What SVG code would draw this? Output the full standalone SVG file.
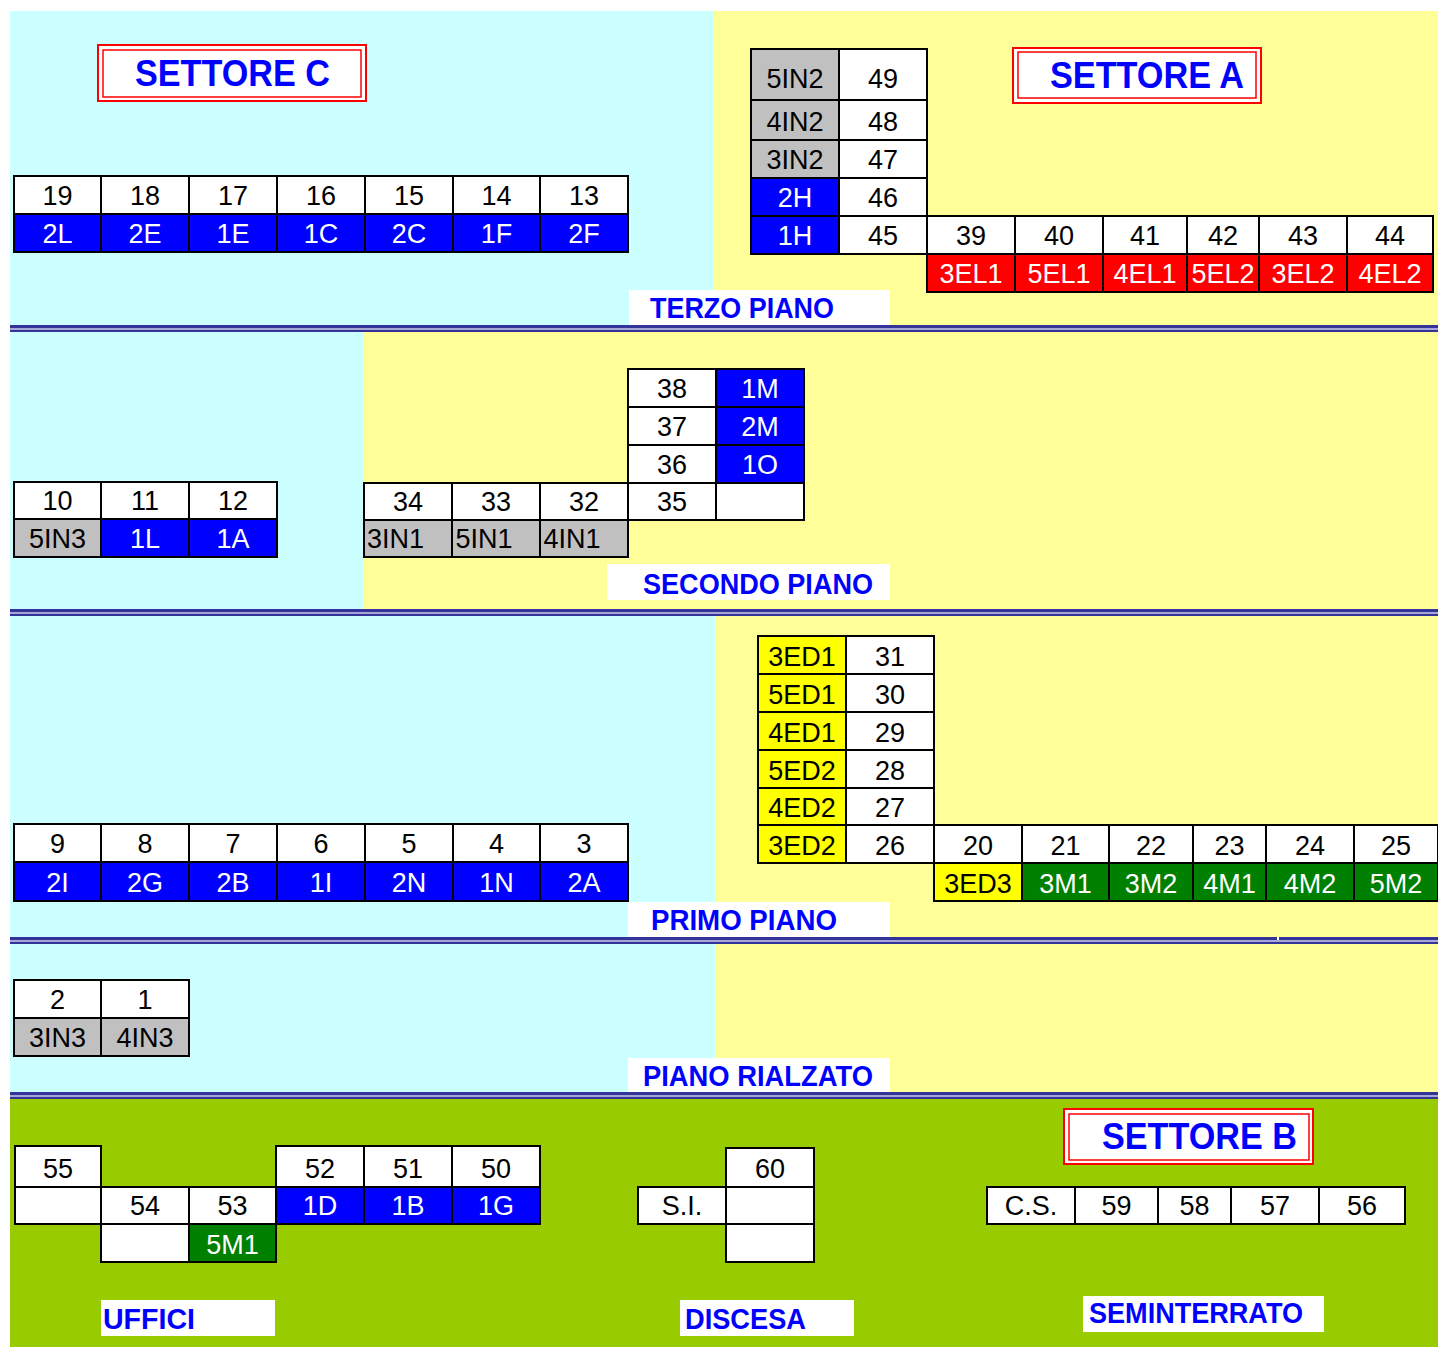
<svg xmlns="http://www.w3.org/2000/svg" width="1438" height="1347" viewBox="0 0 1438 1347">
<style>
.cy{fill:#CCFFFF}.yl{fill:#FFFF99}.gn{fill:#99CC00}
.sd{fill:#333399}.sl{fill:#A6A6D6}
.lb{fill:#fff}
.lt{font-family:"Liberation Sans",Arial,sans-serif;font-weight:bold;fill:#0000FF;font-size:29px}
.st{font-family:"Liberation Sans",Arial,sans-serif;font-weight:bold;fill:#0000FF;font-size:36px}
.sb{fill:#fff;stroke:#FF0000;stroke-width:2}
.si{fill:none;stroke:#FF0000;stroke-width:1.5}
#cells rect{stroke:#000;stroke-width:2}
#cells text{font-family:"Liberation Sans",Arial,sans-serif;font-size:27px;text-anchor:middle}
#cells .lft text{text-anchor:start}
.w rect{fill:#fff}.w text{fill:#000}
.b rect{fill:#0000FF}.b text{fill:#fff}
.r rect{fill:#FF0000}.r text{fill:#fff}
.g rect{fill:#C0C0C0}.g text{fill:#000}
.y rect{fill:#FFFF00}.y text{fill:#000}
.d rect{fill:#008000}.d text{fill:#fff}
</style>
<rect x="0" y="0" width="1438" height="1347" fill="#fff"/>
<g id="background">
<rect class="cy" x="10" y="11" width="704" height="314"/>
<rect class="yl" x="714" y="11" width="724" height="314"/>
<rect class="cy" x="10" y="332" width="353" height="277"/>
<rect class="yl" x="363" y="332" width="1075" height="277"/>
<rect class="cy" x="10" y="616" width="705" height="321"/>
<rect class="yl" x="715" y="616" width="723" height="321"/>
<rect class="cy" x="10" y="944" width="705" height="148"/>
<rect class="yl" x="715" y="944" width="723" height="148"/>
<rect class="gn" x="10" y="1099" width="1428" height="248"/>
</g>
<g id="floor-labels">
<rect class="lb" x="629" y="290" width="261" height="35"/>
<text class="lt" x="650" y="318" textLength="184" lengthAdjust="spacingAndGlyphs" font-size="28">TERZO PIANO</text>
<rect class="lb" x="607" y="564" width="283" height="36"/>
<text class="lt" x="643" y="594" textLength="230" lengthAdjust="spacingAndGlyphs">SECONDO PIANO</text>
<rect class="lb" x="628" y="902" width="262" height="35"/>
<text class="lt" x="651" y="930" textLength="186" lengthAdjust="spacingAndGlyphs">PRIMO PIANO</text>
<rect class="lb" x="628" y="1058" width="262" height="34"/>
<text class="lt" x="643" y="1086" textLength="230" lengthAdjust="spacingAndGlyphs">PIANO RIALZATO</text>
<rect class="lb" x="101" y="1300" width="174" height="36"/>
<text class="lt" x="103" y="1329" textLength="92" lengthAdjust="spacingAndGlyphs">UFFICI</text>
<rect class="lb" x="680" y="1300" width="174" height="36"/>
<text class="lt" x="685" y="1329" textLength="121" lengthAdjust="spacingAndGlyphs">DISCESA</text>
<rect class="lb" x="1083" y="1296" width="241" height="36"/>
<text class="lt" x="1089" y="1323" textLength="214" lengthAdjust="spacingAndGlyphs">SEMINTERRATO</text>
</g>
<g id="separators">
<rect class="sd" x="10" y="325" width="1428" height="3"/><rect class="sl" x="10" y="328" width="1428" height="2"/><rect class="sd" x="10" y="330" width="1428" height="2"/>
<rect class="sd" x="10" y="609" width="1428" height="3"/><rect class="sl" x="10" y="612" width="1428" height="2"/><rect class="sd" x="10" y="614" width="1428" height="2"/>
<rect class="sd" x="10" y="937" width="1267" height="3"/><rect class="sd" x="1279" y="937" width="159" height="3"/><rect class="sl" x="10" y="940" width="1428" height="2"/><rect class="sd" x="10" y="942" width="1428" height="2"/>
<rect class="sd" x="10" y="1092" width="1428" height="3"/><rect class="sl" x="10" y="1095" width="1428" height="2"/><rect class="sd" x="10" y="1097" width="1428" height="2"/>
</g>
<g id="settore-c">
<rect class="sb" x="98" y="45" width="268" height="56"/><rect class="si" x="103" y="50" width="258" height="47"/>
<text class="st" x="135" y="86" textLength="195" lengthAdjust="spacingAndGlyphs">SETTORE C</text>
</g>
<g id="settore-a">
<rect class="sb" x="1013" y="48" width="248" height="55"/><rect class="si" x="1018" y="52" width="238" height="46"/>
<text class="st" x="1050" y="88" textLength="194" lengthAdjust="spacingAndGlyphs">SETTORE A</text>
</g>
<g id="settore-b">
<rect class="sb" x="1064" y="1109" width="249" height="55"/><rect class="si" x="1069" y="1114" width="240" height="46"/>
<text class="st" x="1102" y="1149" textLength="195" lengthAdjust="spacingAndGlyphs">SETTORE B</text>
</g>
<g id="cells">
<!-- terzo piano, settore C -->
<g id="n19" class="w"><rect x="14" y="176" width="87" height="38"/><text x="57.5" y="205">19</text></g>
<g id="n18" class="w"><rect x="101" y="176" width="88" height="38"/><text x="145" y="205">18</text></g>
<g id="n17" class="w"><rect x="189" y="176" width="88" height="38"/><text x="233" y="205">17</text></g>
<g id="n16" class="w"><rect x="277" y="176" width="88" height="38"/><text x="321" y="205">16</text></g>
<g id="n15" class="w"><rect x="365" y="176" width="88" height="38"/><text x="409" y="205">15</text></g>
<g id="n14" class="w"><rect x="453" y="176" width="87" height="38"/><text x="496.5" y="205">14</text></g>
<g id="n13" class="w"><rect x="540" y="176" width="88" height="38"/><text x="584" y="205">13</text></g>
<g id="k2L" class="b"><rect x="14" y="214" width="87" height="38"/><text x="57.5" y="243">2L</text></g>
<g id="k2E" class="b"><rect x="101" y="214" width="88" height="38"/><text x="145" y="243">2E</text></g>
<g id="k1E" class="b"><rect x="189" y="214" width="88" height="38"/><text x="233" y="243">1E</text></g>
<g id="k1C" class="b"><rect x="277" y="214" width="88" height="38"/><text x="321" y="243">1C</text></g>
<g id="k2C" class="b"><rect x="365" y="214" width="88" height="38"/><text x="409" y="243">2C</text></g>
<g id="k1F" class="b"><rect x="453" y="214" width="87" height="38"/><text x="496.5" y="243">1F</text></g>
<g id="k2F" class="b"><rect x="540" y="214" width="88" height="38"/><text x="584" y="243">2F</text></g>
<!-- terzo piano, settore A -->
<g id="k5IN2" class="g"><rect x="751" y="49" width="88" height="51"/><text x="795" y="88">5IN2</text></g>
<g id="n49" class="w"><rect x="839" y="49" width="88" height="51"/><text x="883" y="88">49</text></g>
<g id="k4IN2" class="g"><rect x="751" y="100" width="88" height="40"/><text x="795" y="131">4IN2</text></g>
<g id="n48" class="w"><rect x="839" y="100" width="88" height="40"/><text x="883" y="131">48</text></g>
<g id="k3IN2" class="g"><rect x="751" y="140" width="88" height="38"/><text x="795" y="169">3IN2</text></g>
<g id="n47" class="w"><rect x="839" y="140" width="88" height="38"/><text x="883" y="169">47</text></g>
<g id="k2H" class="b"><rect x="751" y="178" width="88" height="38"/><text x="795" y="207">2H</text></g>
<g id="n46" class="w"><rect x="839" y="178" width="88" height="38"/><text x="883" y="207">46</text></g>
<g id="k1H" class="b"><rect x="751" y="216" width="88" height="38"/><text x="795" y="245">1H</text></g>
<g id="n45" class="w"><rect x="839" y="216" width="88" height="38"/><text x="883" y="245">45</text></g>
<g id="n39" class="w"><rect x="927" y="216" width="88" height="38"/><text x="971" y="245">39</text></g>
<g id="n40" class="w"><rect x="1015" y="216" width="88" height="38"/><text x="1059" y="245">40</text></g>
<g id="n41" class="w"><rect x="1103" y="216" width="84" height="38"/><text x="1145" y="245">41</text></g>
<g id="n42" class="w"><rect x="1187" y="216" width="72" height="38"/><text x="1223" y="245">42</text></g>
<g id="n43" class="w"><rect x="1259" y="216" width="88" height="38"/><text x="1303" y="245">43</text></g>
<g id="n44" class="w"><rect x="1347" y="216" width="86" height="38"/><text x="1390" y="245">44</text></g>
<g id="k3EL1" class="r"><rect x="927" y="254" width="88" height="38"/><text x="971" y="283">3EL1</text></g>
<g id="k5EL1" class="r"><rect x="1015" y="254" width="88" height="38"/><text x="1059" y="283">5EL1</text></g>
<g id="k4EL1" class="r"><rect x="1103" y="254" width="84" height="38"/><text x="1145" y="283">4EL1</text></g>
<g id="k5EL2" class="r"><rect x="1187" y="254" width="72" height="38"/><text x="1223" y="283">5EL2</text></g>
<g id="k3EL2" class="r"><rect x="1259" y="254" width="88" height="38"/><text x="1303" y="283">3EL2</text></g>
<g id="k4EL2" class="r"><rect x="1347" y="254" width="86" height="38"/><text x="1390" y="283">4EL2</text></g>
<!-- secondo piano -->
<g id="n10" class="w"><rect x="14" y="482" width="87" height="37"/><text x="57.5" y="510">10</text></g>
<g id="n11" class="w"><rect x="101" y="482" width="88" height="37"/><text x="145" y="510">11</text></g>
<g id="n12" class="w"><rect x="189" y="482" width="88" height="37"/><text x="233" y="510">12</text></g>
<g id="k5IN3" class="g"><rect x="14" y="519" width="87" height="38"/><text x="57.5" y="548">5IN3</text></g>
<g id="k1L" class="b"><rect x="101" y="519" width="88" height="38"/><text x="145" y="548">1L</text></g>
<g id="k1A" class="b"><rect x="189" y="519" width="88" height="38"/><text x="233" y="548">1A</text></g>
<g id="n38" class="w"><rect x="628" y="369" width="88" height="38"/><text x="672" y="398">38</text></g>
<g id="k1M" class="b"><rect x="716" y="369" width="88" height="38"/><text x="760" y="398">1M</text></g>
<g id="n37" class="w"><rect x="628" y="407" width="88" height="38"/><text x="672" y="436">37</text></g>
<g id="k2M" class="b"><rect x="716" y="407" width="88" height="38"/><text x="760" y="436">2M</text></g>
<g id="n36" class="w"><rect x="628" y="445" width="88" height="38"/><text x="672" y="474">36</text></g>
<g id="k1O" class="b"><rect x="716" y="445" width="88" height="38"/><text x="760" y="474">1O</text></g>
<g id="n34" class="w"><rect x="364" y="483" width="88" height="37"/><text x="408" y="511">34</text></g>
<g id="n33" class="w"><rect x="452" y="483" width="88" height="37"/><text x="496" y="511">33</text></g>
<g id="n32" class="w"><rect x="540" y="483" width="88" height="37"/><text x="584" y="511">32</text></g>
<g id="n35" class="w"><rect x="628" y="483" width="88" height="37"/><text x="672" y="511">35</text></g>
<g id="e1" class="w"><rect x="716" y="483" width="88" height="37"/></g>
<g id="k3IN1" class="g lft"><rect x="364" y="520" width="88" height="37"/><text x="367" y="548">3IN1</text></g>
<g id="k5IN1" class="g lft"><rect x="452" y="520" width="88" height="37"/><text x="455.5" y="548">5IN1</text></g>
<g id="k4IN1" class="g lft"><rect x="540" y="520" width="88" height="37"/><text x="543.5" y="548">4IN1</text></g>
<!-- primo piano -->
<g id="n9" class="w"><rect x="14" y="824" width="87" height="38"/><text x="57.5" y="853">9</text></g>
<g id="n8" class="w"><rect x="101" y="824" width="88" height="38"/><text x="145" y="853">8</text></g>
<g id="n7" class="w"><rect x="189" y="824" width="88" height="38"/><text x="233" y="853">7</text></g>
<g id="n6" class="w"><rect x="277" y="824" width="88" height="38"/><text x="321" y="853">6</text></g>
<g id="n5" class="w"><rect x="365" y="824" width="88" height="38"/><text x="409" y="853">5</text></g>
<g id="n4" class="w"><rect x="453" y="824" width="87" height="38"/><text x="496.5" y="853">4</text></g>
<g id="n3" class="w"><rect x="540" y="824" width="88" height="38"/><text x="584" y="853">3</text></g>
<g id="k2I" class="b"><rect x="14" y="862" width="87" height="39"/><text x="57.5" y="892">2I</text></g>
<g id="k2G" class="b"><rect x="101" y="862" width="88" height="39"/><text x="145" y="892">2G</text></g>
<g id="k2B" class="b"><rect x="189" y="862" width="88" height="39"/><text x="233" y="892">2B</text></g>
<g id="k1I" class="b"><rect x="277" y="862" width="88" height="39"/><text x="321" y="892">1I</text></g>
<g id="k2N" class="b"><rect x="365" y="862" width="88" height="39"/><text x="409" y="892">2N</text></g>
<g id="k1N" class="b"><rect x="453" y="862" width="87" height="39"/><text x="496.5" y="892">1N</text></g>
<g id="k2A" class="b"><rect x="540" y="862" width="88" height="39"/><text x="584" y="892">2A</text></g>
<g id="k3ED1" class="y"><rect x="758" y="636" width="88" height="38"/><text x="802" y="666">3ED1</text></g>
<g id="n31" class="w"><rect x="846" y="636" width="88" height="38"/><text x="890" y="666">31</text></g>
<g id="k5ED1" class="y"><rect x="758" y="674" width="88" height="38"/><text x="802" y="704">5ED1</text></g>
<g id="n30" class="w"><rect x="846" y="674" width="88" height="38"/><text x="890" y="704">30</text></g>
<g id="k4ED1" class="y"><rect x="758" y="712" width="88" height="38"/><text x="802" y="742">4ED1</text></g>
<g id="n29" class="w"><rect x="846" y="712" width="88" height="38"/><text x="890" y="742">29</text></g>
<g id="k5ED2" class="y"><rect x="758" y="750" width="88" height="38"/><text x="802" y="780">5ED2</text></g>
<g id="n28" class="w"><rect x="846" y="750" width="88" height="38"/><text x="890" y="780">28</text></g>
<g id="k4ED2" class="y"><rect x="758" y="788" width="88" height="37"/><text x="802" y="817">4ED2</text></g>
<g id="n27" class="w"><rect x="846" y="788" width="88" height="37"/><text x="890" y="817">27</text></g>
<g id="k3ED2" class="y"><rect x="758" y="825" width="88" height="38"/><text x="802" y="855">3ED2</text></g>
<g id="n26" class="w"><rect x="846" y="825" width="88" height="38"/><text x="890" y="855">26</text></g>
<g id="n20" class="w"><rect x="934" y="825" width="88" height="38"/><text x="978" y="855">20</text></g>
<g id="n21" class="w"><rect x="1022" y="825" width="87" height="38"/><text x="1065.5" y="855">21</text></g>
<g id="n22" class="w"><rect x="1109" y="825" width="84" height="38"/><text x="1151" y="855">22</text></g>
<g id="n23" class="w"><rect x="1193" y="825" width="73" height="38"/><text x="1229.5" y="855">23</text></g>
<g id="n24" class="w"><rect x="1266" y="825" width="88" height="38"/><text x="1310" y="855">24</text></g>
<g id="n25" class="w"><rect x="1354" y="825" width="84" height="38"/><text x="1396" y="855">25</text></g>
<g id="k3ED3" class="y"><rect x="934" y="863" width="88" height="38"/><text x="978" y="893">3ED3</text></g>
<g id="k3M1" class="d"><rect x="1022" y="863" width="87" height="38"/><text x="1065.5" y="893">3M1</text></g>
<g id="k3M2" class="d"><rect x="1109" y="863" width="84" height="38"/><text x="1151" y="893">3M2</text></g>
<g id="k4M1" class="d"><rect x="1193" y="863" width="73" height="38"/><text x="1229.5" y="893">4M1</text></g>
<g id="k4M2" class="d"><rect x="1266" y="863" width="88" height="38"/><text x="1310" y="893">4M2</text></g>
<g id="k5M2" class="d"><rect x="1354" y="863" width="84" height="38"/><text x="1396" y="893">5M2</text></g>
<!-- piano rialzato -->
<g id="n2" class="w"><rect x="14" y="980" width="87" height="38"/><text x="57.5" y="1009">2</text></g>
<g id="n1" class="w"><rect x="101" y="980" width="88" height="38"/><text x="145" y="1009">1</text></g>
<g id="k3IN3" class="g"><rect x="14" y="1018" width="87" height="38"/><text x="57.5" y="1047">3IN3</text></g>
<g id="k4IN3" class="g"><rect x="101" y="1018" width="88" height="38"/><text x="145" y="1047">4IN3</text></g>
<!-- seminterrato -->
<g id="n55" class="w"><rect x="15" y="1146" width="86" height="41"/><text x="58" y="1178">55</text></g>
<g id="n52" class="w"><rect x="276" y="1146" width="88" height="41"/><text x="320" y="1178">52</text></g>
<g id="n51" class="w"><rect x="364" y="1146" width="88" height="41"/><text x="408" y="1178">51</text></g>
<g id="n50" class="w"><rect x="452" y="1146" width="88" height="41"/><text x="496" y="1178">50</text></g>
<g id="e2" class="w"><rect x="15" y="1187" width="86" height="37"/></g>
<g id="n54" class="w"><rect x="101" y="1187" width="88" height="37"/><text x="145" y="1215">54</text></g>
<g id="n53" class="w"><rect x="189" y="1187" width="87" height="37"/><text x="232.5" y="1215">53</text></g>
<g id="k1D" class="b"><rect x="276" y="1187" width="88" height="37"/><text x="320" y="1215">1D</text></g>
<g id="k1B" class="b"><rect x="364" y="1187" width="88" height="37"/><text x="408" y="1215">1B</text></g>
<g id="k1G" class="b"><rect x="452" y="1187" width="88" height="37"/><text x="496" y="1215">1G</text></g>
<g id="e3" class="w"><rect x="101" y="1224" width="88" height="38"/></g>
<g id="k5M1" class="d"><rect x="189" y="1224" width="87" height="38"/><text x="232.5" y="1254">5M1</text></g>
<g id="kSI" class="w"><rect x="638" y="1187" width="88" height="37"/><text x="682" y="1215">S.I.</text></g>
<g id="n60" class="w"><rect x="726" y="1148" width="88" height="39"/><text x="770" y="1178">60</text></g>
<g id="e4" class="w"><rect x="726" y="1187" width="88" height="37"/></g>
<g id="e5" class="w"><rect x="726" y="1224" width="88" height="38"/></g>
<g id="kCS" class="w"><rect x="987" y="1187" width="88" height="37"/><text x="1031" y="1215">C.S.</text></g>
<g id="n59" class="w"><rect x="1075" y="1187" width="83" height="37"/><text x="1116.5" y="1215">59</text></g>
<g id="n58" class="w"><rect x="1158" y="1187" width="73" height="37"/><text x="1194.5" y="1215">58</text></g>
<g id="n57" class="w"><rect x="1231" y="1187" width="88" height="37"/><text x="1275" y="1215">57</text></g>
<g id="n56" class="w"><rect x="1319" y="1187" width="86" height="37"/><text x="1362" y="1215">56</text></g>
</g>
</svg>
